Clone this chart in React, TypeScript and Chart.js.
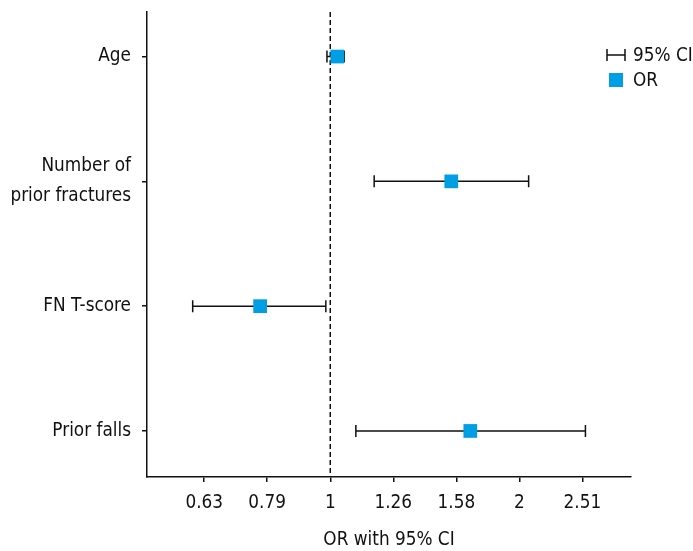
import { useEffect, useRef } from "react";
import { Chart, registerables } from "chart.js";

Chart.register(...registerables);

// ---- data ----
const categories: (string | string[])[] = [
  "Age",
  ["Number of", "prior fractures"],
  "FN T-score",
  "Prior falls",
];
const orValues = [1.026, 1.556, 0.774, 1.668];
const ciLower = [0.988, 1.174, 0.605, 1.098];
const ciUpper = [1.052, 2.064, 0.984, 2.54];
const xTickValues = [0.631, 0.794, 1, 1.259, 1.585, 1.995, 2.512];
const xTickLabels = ["0.63", "0.79", "1", "1.26", "1.58", "2", "2.51"];
const legendLabels = ["95% CI", "OR"];
const xTitle = "OR with 95% CI";
const referenceValue = 1;

const X_MIN = 0.512;
const X_MAX = 3.0;
const Y_MIN = 0.643;
const Y_MAX = 4.369;

const FONT = "'DejaVu Sans Condensed', 'DejaVu Sans', sans-serif";
const FONT_SIZE = 18.8;
const BLUE = "#009FE3";
const INK = "#111111";

const errorBarsPlugin = {
  id: "errorBars",
  beforeDatasetsDraw(chart: any) {
    const { ctx, scales } = chart;
    const x = scales.x;
    const y = scales.y;
    ctx.save();
    ctx.strokeStyle = INK;
    ctx.lineWidth = 1.5;
    ciLower.forEach((lo, i) => {
      const yy = y.getPixelForValue(i + 1);
      const x1 = x.getPixelForValue(lo);
      const x2 = x.getPixelForValue(ciUpper[i]);
      ctx.beginPath();
      ctx.moveTo(x1, yy);
      ctx.lineTo(x2, yy);
      ctx.moveTo(x1, yy - 6);
      ctx.lineTo(x1, yy + 6);
      ctx.moveTo(x2, yy - 6);
      ctx.lineTo(x2, yy + 6);
      ctx.stroke();
    });
    ctx.restore();
  },
};

const legendPlugin = {
  id: "customLegend",
  afterDraw(chart: any) {
    const { ctx, chartArea } = chart;
    const r = chartArea.right;
    const y1 = chartArea.top + 43;
    const y2 = chartArea.top + 68;
    ctx.save();
    ctx.strokeStyle = INK;
    ctx.lineWidth = 1.5;
    ctx.beginPath();
    ctx.moveTo(r - 24, y1);
    ctx.lineTo(r - 6, y1);
    ctx.moveTo(r - 24, y1 - 6);
    ctx.lineTo(r - 24, y1 + 6);
    ctx.moveTo(r - 6, y1 - 6);
    ctx.lineTo(r - 6, y1 + 6);
    ctx.stroke();
    ctx.fillStyle = BLUE;
    ctx.fillRect(r - 22, y2 - 7, 14, 14);
    ctx.fillStyle = INK;
    ctx.font = `${FONT_SIZE}px ${FONT}`;
    ctx.textAlign = "left";
    ctx.textBaseline = "middle";
    ctx.fillText(legendLabels[0], r + 2, y1 + 1);
    ctx.fillText(legendLabels[1], r + 2, y2 + 1);
    ctx.restore();
  },
};

export default function App() {
  const canvasRef = useRef<HTMLCanvasElement | null>(null);

  useEffect(() => {
    if (!canvasRef.current) return;
    const chart = new Chart(canvasRef.current, {
      type: "scatter",
      data: {
        datasets: [
          {
            label: legendLabels[1],
            data: orValues.map((v, i) => ({ x: v, y: i + 1 })),
            pointStyle: "rect",
            pointRadius: 9.7,
            pointHoverRadius: 9.7,
            backgroundColor: BLUE,
            borderWidth: 0,
          },
          {
            label: "reference",
            data: [
              { x: referenceValue, y: Y_MIN },
              { x: referenceValue, y: Y_MAX },
            ],
            showLine: true,
            borderColor: INK,
            borderWidth: 1.5,
            borderDash: [5, 3],
            pointRadius: 0,
          },
        ],
      },
      options: {
        animation: false,
        responsive: true,
        maintainAspectRatio: false,
        layout: { padding: { top: 12, right: 62, left: 0, bottom: 0 } },
        plugins: {
          legend: { display: false },
          tooltip: { enabled: false },
        },
        scales: {
          x: {
            type: "logarithmic",
            min: X_MIN,
            max: X_MAX,
            afterBuildTicks: (scale: any) => {
              scale.ticks = xTickValues.map((v) => ({ value: v }));
            },
            afterFit: (scale: any) => {
              scale.height = 74;
              scale.paddingLeft = 0;
              scale.paddingRight = 0;
            },
            ticks: {
              autoSkip: false,
              maxRotation: 0,
              padding: 10,
              color: INK,
              font: { family: FONT, size: FONT_SIZE },
              callback: (_v: any, i: number) => xTickLabels[i],
            },
            grid: {
              drawOnChartArea: false,
              drawTicks: true,
              tickLength: 5,
              color: INK,
              lineWidth: 1.5,
            },
            border: { display: true, color: INK, width: 1.5 },
            title: {
              display: true,
              text: xTitle,
              color: INK,
              font: { family: FONT, size: FONT_SIZE, lineHeight: 1.2 },
              padding: { top: 0, bottom: 0 },
            },
          },
          y: {
            type: "linear",
            reverse: true,
            min: Y_MIN,
            max: Y_MAX,
            afterBuildTicks: (scale: any) => {
              scale.ticks = categories.map((_c, i) => ({ value: i + 1 }));
            },
            afterFit: (scale: any) => {
              scale.width = 147;
              scale.paddingTop = 0;
              scale.paddingBottom = 0;
            },
            ticks: {
              autoSkip: false,
              padding: 11,
              color: INK,
              font: { family: FONT, size: FONT_SIZE, lineHeight: 1.6 },
              callback: (v: any) => categories[Math.round(Number(v)) - 1],
            },
            grid: {
              drawOnChartArea: false,
              drawTicks: true,
              tickLength: 5,
              color: INK,
              lineWidth: 1.5,
            },
            border: { display: true, color: INK, width: 1.5 },
          },
        },
      },
      plugins: [errorBarsPlugin, legendPlugin],
    } as any);
    return () => chart.destroy();
  }, []);

  return (
    <>
      <style>{`body{margin:0}`}</style>
      <div style={{ position: "relative", width: 693, height: 551 }}>
        <canvas ref={canvasRef} />
      </div>
    </>
  );
}
